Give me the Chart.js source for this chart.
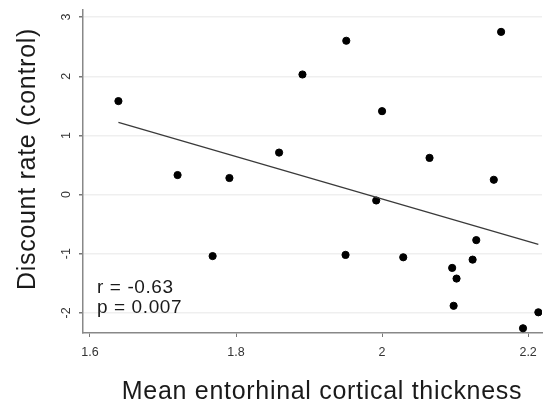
<!DOCTYPE html>
<html>
<head>
<meta charset="utf-8">
<script src="https://cdn.jsdelivr.net/npm/chart.js@4"></script>
<style>
  html, body { margin: 0; padding: 0; background: #fff; }
  #wrap { width: 547px; height: 404px; }
</style>
</head>
<body>
<div id="wrap"><canvas id="scatter"></canvas></div>
<script>
// thickness (x) vs discount rate (y)
let thickness = [1.639, 1.720, 1.768, 1.791, 1.859, 1.891, 1.951, 1.950, 1.992, 2.000, 2.029,
  2.065, 2.096, 2.102, 2.098, 2.124, 2.129, 2.153, 2.163, 2.193, 2.214]
let discount = [1.58, 0.33, -1.04, 0.28, 0.71, 2.03, 2.60, -1.02, -0.10, 1.41, -1.06,
  0.62, -1.24, -1.42, -1.88, -1.10, -0.77, 0.25, 2.75, -2.26, -1.99]

let fitX = [1.639, 2.214]
let fitY = [1.22, -0.84]

let xTicks = [1.6, 1.8, 2.0, 2.2]
let yTicks = [-2, -1, 0, 1, 2, 3]

let xTitle = 'Mean entorhinal cortical thickness'
let yTitle = 'Discount rate (control)'
let statLines = ['r = -0.63', 'p = 0.007']

let fontFam = '"Liberation Sans", Arial, sans-serif'

let textPlugin = {
  id: 'texts',
  afterDraw(chart) {
    let ctx = chart.ctx
    let ys = chart.scales.y
    let area = chart.chartArea
    ctx.save()
    ctx.fillStyle = '#333'
    ctx.font = '12.5px ' + fontFam
    ctx.textAlign = 'center'
    ctx.textBaseline = 'middle'
    // rotated y tick labels
    yTicks.forEach((v) => {
      ctx.save()
      ctx.translate(67, ys.getPixelForValue(v))
      ctx.rotate(-Math.PI / 2)
      ctx.fillText(String(v), 0, 0)
      ctx.restore()
    })
    // axis titles
    ctx.fillStyle = '#1a1a1a'
    ctx.font = '25px ' + fontFam
    ctx.letterSpacing = '0.7px'
    ctx.textBaseline = 'alphabetic'
    ctx.save()
    ctx.translate(35, 159)
    ctx.rotate(-Math.PI / 2)
    ctx.fillText(yTitle, 0, 0)
    ctx.restore()
    ctx.fillText(xTitle, 322, 399)
    // stats
    ctx.textAlign = 'left'
    ctx.font = '19px ' + fontFam
    ctx.letterSpacing = '0.6px'
    ctx.fillText(statLines[0], area.left + 14, 293)
    ctx.fillText(statLines[1], area.left + 14, 313)
    ctx.restore()
  },
}

new Chart(document.getElementById('scatter'), {
  type: 'scatter',
  data: {
    datasets: [
      {
        label: 'fit',
        type: 'line',
        data: fitX.map((x, i) => ({x: x, y: fitY[i]})),
        borderColor: '#3a3a3a',
        borderWidth: 1.3,
        pointRadius: 0,
        fill: false,
      },
      {
        label: 'subjects',
        data: thickness.map((x, i) => ({x: x, y: discount[i]})),
        backgroundColor: '#000',
        borderColor: '#000',
        pointRadius: 3.6,
      },
    ],
  },
  options: {
    responsive: true,
    maintainAspectRatio: false,
    animation: false,
    layout: {padding: {top: 10, right: 0, left: 0, bottom: 0}},
    plugins: {
      legend: {display: false},
      tooltip: {enabled: false},
    },
    scales: {
      x: {
        type: 'linear',
        min: 1.5905,
        max: 2.219,
        afterBuildTicks: (s) => { s.ticks = xTicks.map((v) => ({value: v})) },
        afterFit: (s) => { s.height = 71 },
        ticks: {
          color: '#333',
          font: {size: 12.5, family: fontFam},
          padding: 8,
          maxRotation: 0,
          callback: (v) => String(+v.toFixed(1)),
        },
        grid: {drawOnChartArea: false, drawTicks: true, tickLength: 4, tickColor: '#777'},
        border: {color: '#888', width: 1.5},
      },
      y: {
        min: -2.34,
        max: 3.12,
        afterBuildTicks: (s) => { s.ticks = yTicks.map((v) => ({value: v})) },
        afterFit: (s) => { s.width = 83 },
        ticks: {display: false},
        grid: {color: '#efefef', lineWidth: 1.5, drawTicks: true, tickLength: 4, tickColor: '#777'},
        border: {color: '#888', width: 1.5},
      },
    },
  },
  plugins: [textPlugin],
})
</script>
</body>
</html>
